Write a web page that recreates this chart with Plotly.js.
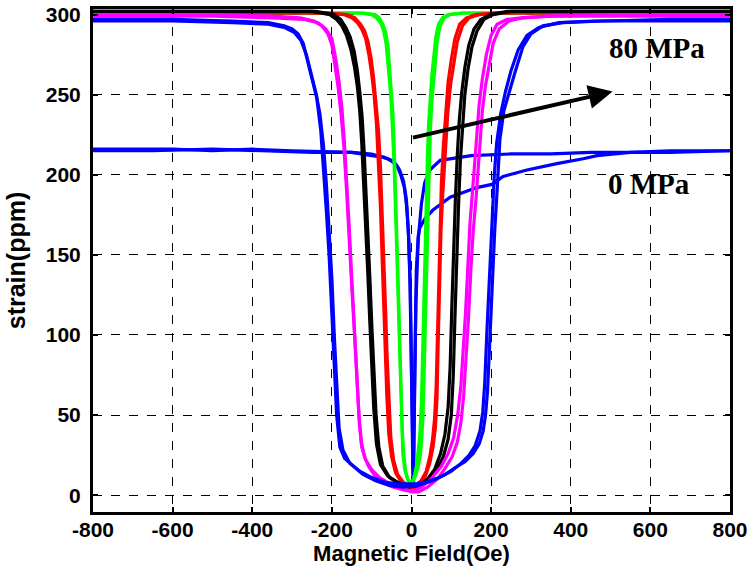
<!DOCTYPE html>
<html>
<head>
<meta charset="utf-8">
<script src="https://cdn.plot.ly/plotly-3.0.1.min.js"></script>
<style>html,body{margin:0;padding:0;background:#fff;}#chart{width:751px;height:567px;}</style>
</head>
<body>
<div id="chart"></div>
<script>
// ---- data (Magnetic Field in Oe, strain in ppm) ----
const xTicks = [-800, -600, -400, -200, 0, 200, 400, 600, 800];
const yTicks = [0, 50, 100, 150, 200, 250, 300];

// 0 MPa (blue, low saturation with sharp dip)
const b0A_x = [-800, -700, -600, -500, -400, -300, -200, -150, -100, -70, -50, -35, -27, -18, -12, -7, -3, 0, 2, 4, 7, 11, 17, 25, 33, 46, 72, 150, 250, 350, 450, 550, 650, 800];
const b0A_y = [216, 216, 216, 215, 216, 215, 214, 214, 212, 211, 209, 205, 200, 192, 180, 160, 130, 90, 40, 5, 60, 120, 160, 182, 195, 203, 209, 212, 213, 213, 214, 214, 215, 215];
const b0B_x = [-800, -650, -500, -350, -250, -150, -100, -60, -40, -30, -20, -13, -8, -4, -1, 1, 3, 5, 8, 12, 17, 21, 35, 54, 97, 164, 202, 230, 290, 365, 431, 466, 550, 650, 800];
const b0B_y = [215, 215, 216, 215, 214, 214, 213, 210, 207, 203, 196, 185, 166, 135, 95, 50, 15, 5, 70, 140, 162, 167, 173, 178, 186, 192, 194, 199, 203, 207, 210, 212, 214, 214, 215];

// green
const gA_x = [-800, -300, -130, -100, -88, -78, -70, -64, -59, -55, -51, -47, -44, -41, -38, -35, -32, -29, -26, -22, -17, -10, -3, 4, 10, 16, 21, 25, 29, 32, 35, 38, 41, 44, 47, 51, 55, 60, 65, 72, 82, 97, 130, 300, 800];
const gA_y = [301, 301, 301, 300, 298, 295, 290, 282, 270, 258, 245, 228, 208, 185, 160, 130, 100, 70, 45, 27, 16, 10, 8, 9, 12, 17, 23, 32, 50, 80, 115, 150, 180, 205, 226, 245, 258, 270, 284, 293, 298, 300, 301, 301, 301];
const gB_x = [-800, -300, -120, -92, -81, -72, -65, -59, -55, -51, -47, -44, -41, -38, -35, -32, -29, -26, -23, -19, -14, -8, -2, 3, 8, 13, 17, 21, 25, 28, 31, 34, 37, 40, 43, 47, 51, 56, 61, 68, 78, 92, 125, 300, 800];
const gB_y = [301, 301, 301, 300, 298, 294, 289, 280, 268, 255, 240, 222, 200, 176, 150, 120, 90, 62, 40, 24, 14, 9, 8, 9, 13, 19, 27, 38, 58, 90, 125, 160, 190, 212, 232, 250, 262, 274, 286, 294, 298, 300, 301, 301, 301];

// red
const rA_x = [-800, -400, -220, -170, -150, -136, -125, -115, -107, -100, -94, -88, -83, -78, -74, -70, -66, -62, -57, -50, -40, -25, -10, 5, 20, 35, 46, 54, 60, 64, 67, 70, 74, 79, 85, 91, 98, 106, 115, 128, 145, 170, 220, 400, 800];
const rA_y = [301, 301, 301, 300, 298, 295, 291, 285, 275, 263, 250, 232, 210, 180, 150, 120, 90, 62, 38, 24, 14, 8, 5, 4, 6, 12, 20, 30, 42, 60, 95, 130, 165, 190, 215, 238, 256, 270, 283, 293, 298, 300, 301, 301, 301];
const rB_x = [-800, -400, -210, -162, -142, -128, -118, -109, -101, -95, -89, -83, -78, -73, -69, -65, -61, -57, -52, -45, -35, -20, -5, 10, 24, 37, 46, 53, 58, 62, 65, 68, 71, 75, 80, 86, 92, 100, 109, 121, 138, 162, 210, 400, 800];
const rB_y = [301, 301, 301, 300, 298, 294, 290, 283, 272, 260, 246, 228, 205, 175, 145, 115, 85, 58, 36, 22, 13, 8, 6, 6, 9, 15, 24, 35, 48, 68, 100, 135, 168, 194, 218, 240, 258, 272, 285, 294, 298, 300, 301, 301, 301];

// black
const kA_x = [-800, -400, -250, -205, -188, -175, -163, -152, -143, -136, -130, -125, -120, -115, -110, -105, -100, -95, -88, -78, -60, -35, -10, 15, 40, 62, 80, 92, 100, 105, 109, 113, 118, 123, 128, 134, 142, 152, 165, 182, 205, 250, 400, 800];
const kA_y = [302, 302, 302, 300, 297, 293, 287, 278, 267, 255, 240, 220, 195, 165, 140, 110, 80, 55, 32, 19, 12, 8, 6, 6, 9, 15, 24, 35, 50, 75, 110, 145, 180, 210, 232, 250, 266, 280, 290, 297, 300, 302, 302, 302];
const kB_x = [-800, -400, -240, -195, -178, -165, -154, -144, -136, -130, -124, -119, -114, -109, -104, -99, -94, -89, -82, -72, -55, -30, -5, 18, 40, 58, 73, 84, 92, 97, 101, 105, 110, 115, 120, 126, 134, 144, 157, 174, 198, 240, 400, 800];
const kB_y = [302, 302, 302, 300, 297, 292, 286, 277, 265, 252, 236, 215, 190, 160, 132, 102, 74, 50, 30, 18, 11, 7, 5, 6, 10, 16, 26, 38, 55, 80, 115, 150, 183, 212, 234, 251, 267, 281, 291, 297, 300, 302, 302, 302];

// magenta
const mA_x = [-800, -500, -350, -280, -245, -225, -210, -200, -192, -184, -177, -170, -163, -157, -150, -143, -137, -131, -125, -115, -100, -80, -54, -25, 0, 18, 40, 65, 85, 102, 115, 124, 131, 137, 143, 149, 155, 162, 170, 178, 186, 194, 205, 220, 245, 280, 350, 500, 800];
const mA_y = [300, 300, 299, 298, 296, 293, 288, 281, 268, 254, 238, 218, 190, 160, 130, 100, 70, 45, 30, 22, 16, 11, 7, 4, 2, 2, 5, 10, 17, 24, 33, 45, 62, 85, 110, 140, 165, 185, 215, 240, 256, 268, 282, 291, 296, 298, 299, 300, 300];
const mB_x = [-800, -500, -350, -270, -235, -215, -200, -190, -182, -175, -169, -162, -156, -150, -144, -138, -132, -126, -118, -108, -92, -72, -45, -15, 10, 30, 52, 75, 92, 106, 116, 124, 130, 136, 142, 147, 154, 162, 170, 178, 188, 200, 215, 240, 275, 340, 500, 800];
const mB_y = [299, 299, 298, 297, 295, 291, 285, 272, 258, 242, 222, 195, 165, 135, 105, 75, 50, 33, 24, 18, 12, 8, 5, 3, 3, 6, 11, 18, 26, 36, 50, 68, 90, 115, 145, 170, 192, 220, 244, 260, 275, 287, 294, 297, 298, 299, 299, 299];

// blue 80 MPa
const b8A_x = [-800, -600, -450, -360, -320, -300, -285, -272, -260, -248, -238, -228, -221, -214, -207, -200, -194, -188, -180, -168, -150, -122, -90, -54, -20, 15, 52, 85, 109, 135, 155, 170, 180, 186, 191, 196, 202, 209, 215, 222, 232, 245, 260, 280, 300, 330, 380, 480, 650, 800];
const b8A_y = [297, 297, 296, 295, 293, 291, 288, 282, 270, 258, 248, 228, 205, 178, 150, 115, 80, 50, 30, 23, 19, 13, 9, 6, 5, 6, 9, 13, 17, 21, 26, 32, 40, 50, 65, 95, 130, 165, 190, 222, 240, 252, 264, 280, 288, 293, 295, 296, 297, 297];
const b8B_x = [-800, -600, -450, -360, -320, -295, -278, -264, -252, -240, -230, -221, -214, -207, -200, -194, -188, -182, -172, -155, -130, -100, -65, -30, 5, 35, 70, 100, 125, 145, 160, 172, 179, 184, 189, 195, 201, 208, 214, 224, 236, 250, 268, 290, 320, 370, 460, 650, 800];
const b8B_y = [296, 296, 295, 294, 292, 289, 284, 275, 263, 251, 238, 218, 195, 165, 135, 100, 68, 42, 28, 20, 15, 11, 8, 7, 7, 8, 11, 15, 20, 25, 31, 40, 52, 70, 100, 135, 170, 200, 220, 238, 252, 265, 278, 287, 292, 295, 296, 296, 296];

const series = [
  {x: b0A_x, y: b0A_y, c: '#0000ff'},
  {x: b0B_x, y: b0B_y, c: '#0000ff'},
  {x: gA_x, y: gA_y, c: '#00ff00'},
  {x: gB_x, y: gB_y, c: '#00ff00'},
  {x: rA_x, y: rA_y, c: '#ff0000'},
  {x: rB_x, y: rB_y, c: '#ff0000'},
  {x: kA_x, y: kA_y, c: '#000000'},
  {x: kB_x, y: kB_y, c: '#000000'},
  {x: mA_x, y: mA_y, c: '#ff00ff'},
  {x: mB_x, y: mB_y, c: '#ff00ff'},
  {x: b8A_x, y: b8A_y, c: '#0000ff'},
  {x: b8B_x, y: b8B_y, c: '#0000ff'}
];

const traces = series.map(s => ({
  type: 'scatter', mode: 'lines', x: s.x, y: s.y,
  line: {color: s.c, width: 3.2}, showlegend: false, hoverinfo: 'skip'
}));

const tickFont = {family: 'Liberation Sans, Arial, sans-serif', size: 21, weight: 'bold', color: '#000'};
const xTitleFont = {family: 'Liberation Sans, Arial, sans-serif', size: 22, weight: 'bold', color: '#000'};
const yTitleFont = {family: 'Liberation Sans, Arial, sans-serif', size: 25, weight: 'bold', color: '#000'};
const annFont = {family: 'Liberation Serif, Times New Roman, serif', size: 29, weight: 'bold', color: '#000'};

const axisCommon = {
  showline: true, linecolor: '#000', linewidth: 3, mirror: 'ticks',
  ticks: 'inside', ticklen: 5, tickwidth: 2, tickcolor: '#000',
  showgrid: true, gridcolor: '#000', gridwidth: 1, griddash: 'dash',
  zeroline: false, tickfont: tickFont
};

const layout = {
  width: 751, height: 567,
  margin: {l: 93, r: 21, t: 9, b: 55},
  paper_bgcolor: '#fff', plot_bgcolor: '#fff',
  xaxis: Object.assign({}, axisCommon, {
    range: [-800, 800], tickvals: xTicks, ticktext: xTicks.map(String),
    ticklabelstandoff: -3,
    title: {text: 'Magnetic Field(Oe)', font: xTitleFont, standoff: 2}
  }),
  yaxis: Object.assign({}, axisCommon, {
    range: [-10.5, 303.5], tickvals: yTicks, ticktext: yTicks.map(String),
    ticklabelstandoff: 5,
    title: {text: 'strain(ppm)', font: yTitleFont, standoff: 14}
  }),
  annotations: [
    {x: 617, y: 279, xref: 'x', yref: 'y', text: '80 MPa', showarrow: false, font: annFont},
    {x: 597, y: 194, xref: 'x', yref: 'y', text: '0 MPa', showarrow: false, font: annFont},
    {x: 505, y: 252, xref: 'x', yref: 'y', ax: 0, ay: 223, axref: 'x', ayref: 'y',
     text: '', showarrow: true, arrowhead: 2, arrowsize: 1.2, arrowwidth: 4, arrowcolor: '#000', standoff: 0}
  ]
};

Plotly.newPlot('chart', traces, layout, {displayModeBar: false, staticPlot: true});
</script>
</body>
</html>
